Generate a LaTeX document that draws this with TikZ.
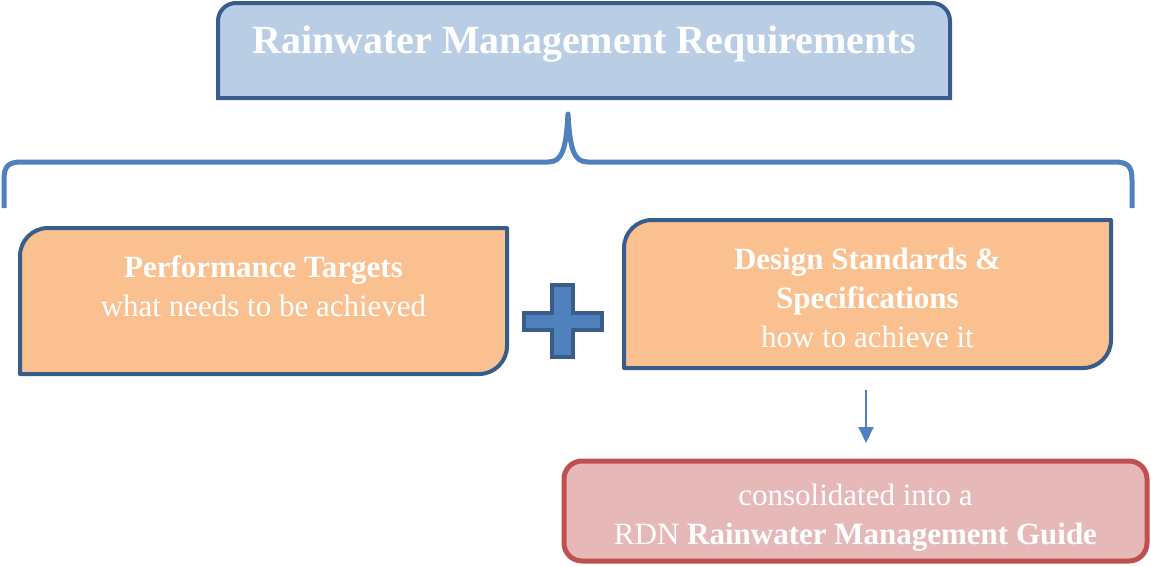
\documentclass[tikz,border=0pt]{standalone}
\usepackage{fontspec}
\setmainfont{Liberation Serif}
\usetikzlibrary{arrows.meta,positioning,calc}
\definecolor{capblue}{RGB}{185,205,229}
\definecolor{edgeblue}{RGB}{56,93,138}
\definecolor{braceblue}{RGB}{79,129,189}
\definecolor{peach}{RGB}{250,192,144}
\definecolor{rosefill}{RGB}{230,185,184}
\definecolor{roseedge}{RGB}{192,80,77}

\begin{document}
\begin{tikzpicture}[x=1pt, y=-1pt,
    frame/.style={rectangle, inner sep=0pt, outer sep=0pt},
    txt/.style={text=white, align=center, font=\fontsize{31}{39}\selectfont},
    leafedge/.style={draw=edgeblue, fill=peach, line width=4pt, line join=round}]
    \useasboundingbox (0,0) rectangle (1151,566);

    % box frames
    \node[frame, minimum width=732pt, minimum height=95pt] (reqbox) at (584,50.5) {};
    \node[frame, minimum width=487pt, minimum height=146pt] (perfbox) at (263.5,301) {};
    \node[frame, minimum width=487pt, minimum height=148pt] (specbox) at (867.5,294) {};
    \node[frame, minimum width=583pt, minimum height=100pt] (guidebox) at (855.5,511) {};

    % title box, rounded on top only
    \draw[draw=edgeblue, fill=capblue, line width=4pt]
        (reqbox.south west) -- ([yshift=-18pt]reqbox.north west)
        arc[start angle=180, end angle=90, radius=18pt]
        -- ([xshift=-18pt]reqbox.north east)
        arc[start angle=90, end angle=0, radius=18pt]
        -- (reqbox.south east) -- cycle;
    % the two leaf boxes
    \foreach \b in {perfbox, specbox}
        \draw[leafedge] (\b.south west) -- ([yshift=-28pt]\b.north west)
            arc[start angle=180, end angle=90, radius=28pt]
            -- (\b.north east) -- ([yshift=28pt]\b.south east)
            arc[start angle=0, end angle=-90, radius=28pt] -- cycle;
    \draw[draw=roseedge, fill=rosefill, line width=5pt, rounded corners=18pt]
        (guidebox.south west) rectangle (guidebox.north east);

    % brace
    \draw[braceblue, line width=5pt, line join=round]
        (4,208) -- (4,180) .. controls (4,166) and (8,162) .. (22,162)
        -- (548,162) .. controls (562,162) and (566,150) .. (568,114)
        .. controls (570,150) and (574,162) .. (588,162)
        -- (1114,162) .. controls (1128,162) and (1132,166) .. (1132,180)
        -- (1132,208);

    % plus sign
    \draw[draw=edgeblue, fill=braceblue, line width=4.5pt]
        (552,285) -- (573,285) -- (573,313) -- (602,313) -- (602,330) -- (573,330)
        -- (573,357) -- (552,357) -- (552,330) -- (524,330) -- (524,313) -- (552,313) -- cycle;

    \node[txt, font=\fontsize{40}{47}\selectfont\bfseries] (req) at ([yshift=6pt]reqbox.center) {Rainwater Management Requirements};
    \node[txt] (perf) at ([yshift=15pt]perfbox.center) {\textbf{Performance Targets}\\what needs to be achieved};
    \node[txt] (spec) at ([yshift=-4pt]specbox.center) {\textbf{Design Standards \&}\\\textbf{Specifications}\\how to achieve it};
    \node[txt] (guide) at ([yshift=-7pt]guidebox.center) {consolidated into a\\RDN \textbf{Rainwater Management Guide}};

    \draw[braceblue, line width=2pt, -{Triangle[width=15pt,length=16pt]}, shorten <=22pt, shorten >=18pt]
        ([xshift=-1.5pt]specbox.south) -- ([xshift=-1.5pt]specbox.south |- guidebox.north);
\end{tikzpicture}
\end{document}
